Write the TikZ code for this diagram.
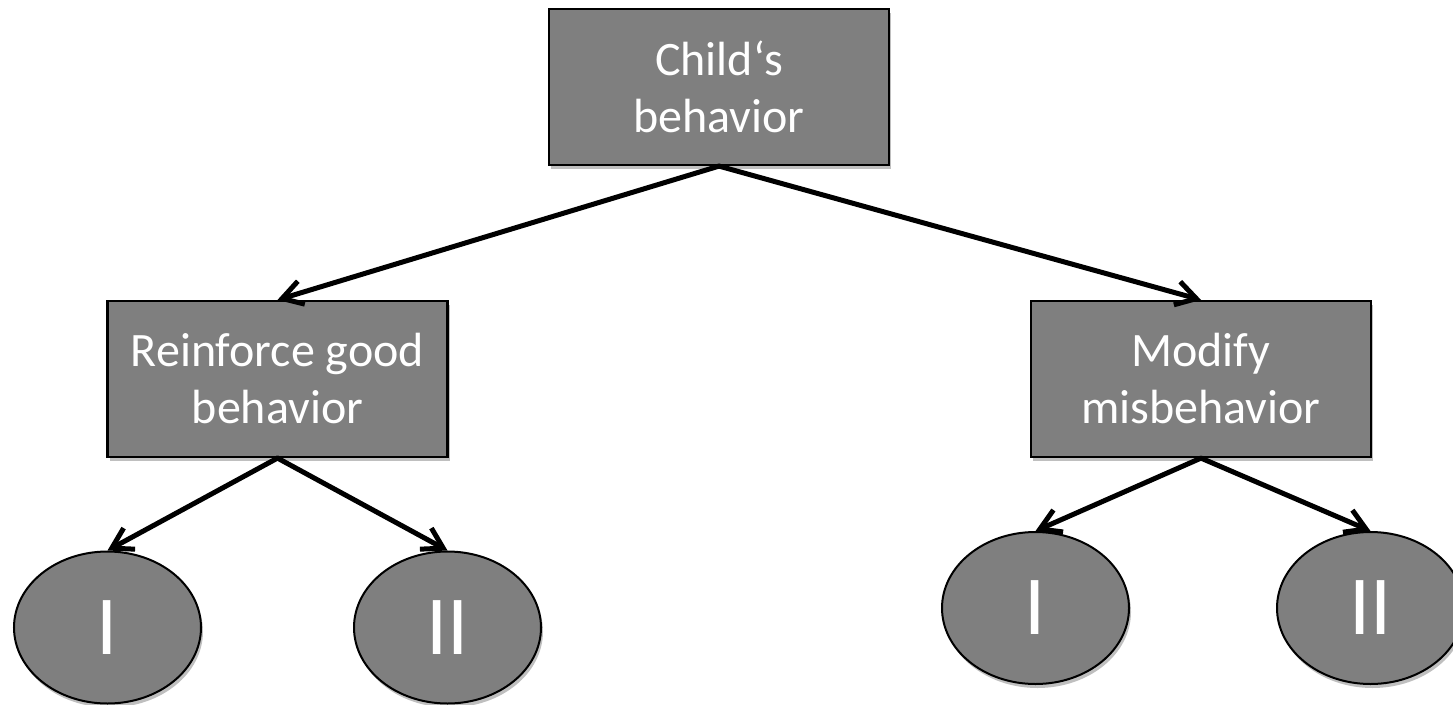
\documentclass[tikz,border=0pt]{standalone}
\usepackage{fontspec}
\setmainfont{Carlito}
\usetikzlibrary{arrows.meta,shapes.geometric,shadows}
\definecolor{boxgray}{HTML}{7F7F7F}
\tikzset{
  shade/.style={drop shadow={shadow xshift=2pt,shadow yshift=-4pt,opacity=0.25,fill=black}},
  box/.style={rectangle,draw=black,line width=2.2pt,fill=boxgray,text=white,
    minimum width=340pt,minimum height=156pt,inner sep=0pt,align=center,
    font=\fontsize{48}{57}\selectfont,shade},
  oval/.style={ellipse,draw=black,line width=2pt,fill=boxgray,text=white,
    minimum width=187pt,minimum height=152pt,inner sep=0pt,
    font=\fontsize{84}{90}\selectfont,shade},
  conn/.style={line width=5pt,line cap=round,-{Straight Barb[length=20pt,width=24pt,line width=5pt]}}
}
\begin{document}
\begin{tikzpicture}[x=1pt,y=-1pt]
\useasboundingbox (0,0) rectangle (1453,704);
\node[box] (top) at (719,87) {Child‘s\\behavior};
\node[box] (left) at (277.5,379) {Reinforce good\\behavior};
\node[box] (right) at (1201,379) {Modify\\misbehavior};
\node[oval] (l1) at (107.5,627.5) {I};
\node[oval] (l2) at (447.5,627.5) {II};
\node[oval] (r1) at (1035.5,608) {I};
\node[oval] (r2) at (1370.5,608) {II};
\draw[conn] (top.south) -- (left.north);
\draw[conn] (top.south) -- (right.north);
\draw[conn] (left.south) -- (l1.north);
\draw[conn] (left.south) -- (l2.north);
\draw[conn] (right.south) -- (r1.north);
\draw[conn] (right.south) -- (r2.north);
\end{tikzpicture}
\end{document}
